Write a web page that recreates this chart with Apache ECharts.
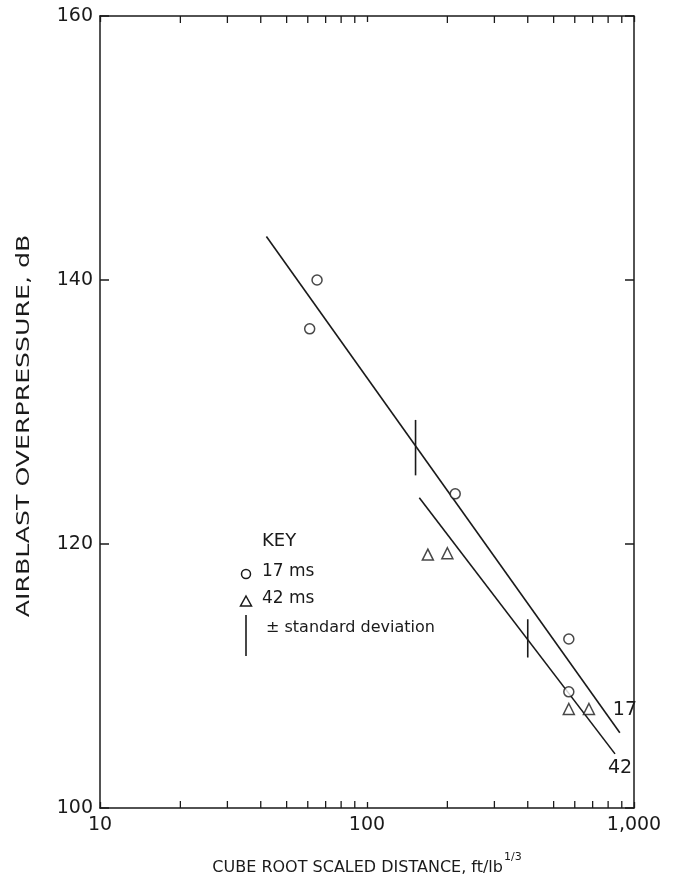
<!DOCTYPE html>
<html>
<head>
<meta charset="utf-8">
<title>Airblast overpressure vs scaled distance</title>
<script src="https://cdn.jsdelivr.net/npm/echarts@6/dist/echarts.min.js"></script>
<style>
  html, body { margin: 0; padding: 0; background: #fff; }
  #chart { width: 674px; height: 881px; }
</style>
</head>
<body>
<div id="chart"></div>
<script>
// Scaled distance (ft/lb^1/3) and airblast level (dB) for each delay
const ms17 = [[65, 140.0], [61, 136.3], [214, 123.8], [570, 112.8], [570, 108.8]];
const ms42 = [[169, 119.2], [200, 119.3], [570, 107.5], [678, 107.5]];

// Fitted regression lines (end points)
const fit17 = [[42, 143.3], [885, 105.7]];
const fit42 = [[157, 123.5], [849, 104.1]];

// Standard deviation bars: [x, low, high]
const sdBars = [[152, 125.2, 129.4], [400, 111.4, 114.3]];

// Axis ticks
const yTicks = [100, 120, 140, 160];
const xMinorTicks = [20, 30, 40, 50, 60, 70, 80, 90, 200, 300, 400, 500, 600, 700, 800, 900];

const INK = '#1a1a1a';
const FONT = 'DejaVu Sans';

const chart = echarts.init(document.getElementById('chart'), null, { renderer: 'canvas' });

const lineSeries = (data, label, offset) => ({
  type: 'line',
  data: data,
  showSymbol: false,
  symbol: 'none',
  lineStyle: { color: INK, width: 1.6 },
  endLabel: {
    show: true,
    formatter: label,
    offset: offset,
    color: INK,
    fontFamily: FONT,
    fontSize: 19
  },
  silent: true,
  z: 3
});

chart.setOption({
  animation: false,
  backgroundColor: '#ffffff',
  grid: { left: 100, right: 40, top: 16, bottom: 69 },
  xAxis: [{
    type: 'log',
    logBase: 10,
    min: 10,
    max: 1000,
    position: 'bottom',
    name: '{t|CUBE ROOT SCALED DISTANCE, ft/lb}{s|1/3}',
    nameLocation: 'middle',
    nameGap: 44,
    nameTextStyle: {
      rich: {
        t: { fontFamily: FONT, fontSize: 16, color: INK, verticalAlign: 'bottom', lineHeight: 24 },
        s: { fontFamily: FONT, fontSize: 11, color: INK, verticalAlign: 'top', lineHeight: 24, padding: [0, 0, 8, 1] }
      }
    },
    axisLine: { show: true, lineStyle: { color: INK, width: 1.5 } },
    axisTick: { show: true, inside: true, length: 6, lineStyle: { color: INK, width: 1.3 } },
    axisLabel: {
      color: INK, fontFamily: FONT, fontSize: 19, margin: 8,
      formatter: v => v >= 1000 ? (v / 1000) + ',000' : String(v)
    },
    splitLine: { show: false },
    minorTick: { show: false }
  }, {
    type: 'log',
    logBase: 10,
    min: 10,
    max: 1000,
    position: 'top',
    axisLine: { show: true, lineStyle: { color: INK, width: 1.5 } },
    axisTick: { show: true, inside: true, length: 6, lineStyle: { color: INK, width: 1.3 } },
    axisLabel: { show: false },
    splitLine: { show: false }
  }],
  yAxis: [{
    type: 'value',
    min: 100,
    max: 160,
    interval: 20,
    position: 'left',
    axisLine: { show: true, lineStyle: { color: INK, width: 1.5 } },
    axisTick: { show: true, inside: true, length: 9, lineStyle: { color: INK, width: 1.5 } },
    axisLabel: { color: INK, fontFamily: FONT, fontSize: 19, margin: 7,
      formatter: v => yTicks.includes(v) ? String(v) : '' },
    splitLine: { show: false }
  }, {
    type: 'value',
    min: 100,
    max: 160,
    interval: 20,
    position: 'right',
    axisLine: { show: true, lineStyle: { color: INK, width: 1.5 } },
    axisTick: { show: true, inside: true, length: 9, lineStyle: { color: INK, width: 1.5 } },
    axisLabel: { show: false },
    splitLine: { show: false }
  }],
  series: [
    lineSeries(fit17, '17', [-15, -23]),
    lineSeries(fit42, '42', [-15, 14]),
    {
      // ± standard deviation bars
      type: 'custom',
      data: sdBars,
      silent: true,
      z: 3,
      renderItem: (params, api) => {
        const a = api.coord([api.value(0), api.value(1)]);
        const b = api.coord([api.value(0), api.value(2)]);
        return {
          type: 'line',
          shape: { x1: a[0], y1: a[1], x2: b[0], y2: b[1] },
          style: { stroke: INK, lineWidth: 1.6 }
        };
      }
    },
    {
      // Minor log ticks on the top and bottom frame
      type: 'custom',
      data: xMinorTicks.map(v => [v]),
      silent: true,
      z: 4,
      renderItem: (params, api) => {
        const v = api.value(0);
        const bot = api.coord([v, 100]);
        const top = api.coord([v, 160]);
        const len = 7;
        return {
          type: 'group',
          children: [
            { type: 'line', shape: { x1: bot[0], y1: bot[1], x2: bot[0], y2: bot[1] - len },
              style: { stroke: INK, lineWidth: 1.3 } },
            { type: 'line', shape: { x1: top[0], y1: top[1], x2: top[0], y2: top[1] + len },
              style: { stroke: INK, lineWidth: 1.3 } }
          ]
        };
      }
    },
    {
      name: '17 ms',
      type: 'scatter',
      data: ms17,
      symbol: 'circle',
      symbolSize: 10,
      itemStyle: { color: '#ffffff', borderColor: INK, borderWidth: 1.5 },
      z: 5
    },
    {
      name: '42 ms',
      type: 'scatter',
      data: ms42,
      symbol: 'triangle',
      symbolSize: 11,
      itemStyle: { color: '#ffffff', borderColor: INK, borderWidth: 1.5 },
      z: 5
    }
  ],
  graphic: [
    // Vertical axis title, lettered wide
    { type: 'text', x: 24, y: 426, rotation: Math.PI / 2, scaleX: 1.4, scaleY: 1,
      style: { text: 'AIRBLAST OVERPRESSURE, dB', font: '18px "DejaVu Sans"', fill: INK,
        align: 'center', verticalAlign: 'middle' } },
    // Key
    { type: 'text', left: 262, top: 532,
      style: { text: 'KEY', font: '18px "DejaVu Sans"', fill: INK } },
    { type: 'circle', shape: { cx: 246, cy: 574, r: 4.5 },
      style: { fill: '#fff', stroke: INK, lineWidth: 1.5 } },
    { type: 'text', left: 262, top: 563,
      style: { text: '17 ms', font: '17px "DejaVu Sans"', fill: INK } },
    { type: 'polygon', shape: { points: [[246, 596], [251.5, 606], [240.5, 606]] },
      style: { fill: '#fff', stroke: INK, lineWidth: 1.5 } },
    { type: 'text', left: 262, top: 590,
      style: { text: '42 ms', font: '17px "DejaVu Sans"', fill: INK } },
    { type: 'line', shape: { x1: 246, y1: 615, x2: 246, y2: 656 },
      style: { stroke: INK, lineWidth: 1.6 } },
    { type: 'text', left: 266, top: 620,
      style: { text: '± standard deviation', font: '16px "DejaVu Sans"', fill: INK } }
  ]
});
</script>
</body>
</html>
